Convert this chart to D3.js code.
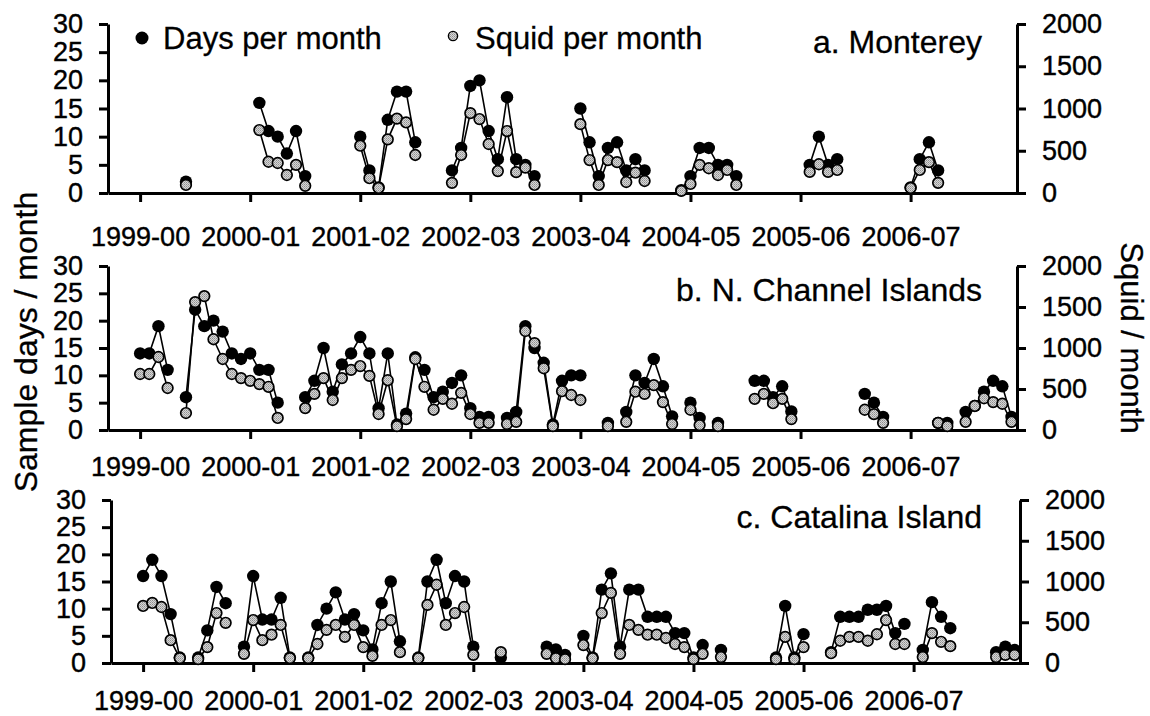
<!DOCTYPE html>
<html>
<head>
<meta charset="utf-8">
<script src="https://cdn.jsdelivr.net/npm/d3@7"></script>
<style>
  body { margin: 0; background: #fff; }
  svg { display: block; font-family: "Liberation Sans", Arial, sans-serif; }
</style>
</head>
<body>
<div id="chart"></div>
<script>
// season ticks on the x axis (month index, 0 = first season tick)
const seasonLabels = ['1999-00', '2000-01', '2001-02', '2002-03', '2003-04', '2004-05', '2005-06', '2006-07'];
const seasonMonths = [0, 12, 24, 36, 48, 60, 72, 84];
const daysTicks = [0, 5, 10, 15, 20, 25, 30];
const squidTicks = [0, 500, 1000, 1500, 2000];

// a. Monterey
const monthsA = [5, 13, 14, 15, 16, 17, 18, 24, 25, 26, 27, 28, 29, 30,
    34, 35, 36, 37, 38, 39, 40, 41, 42, 43, 48, 49, 50, 51, 52, 53, 54, 55,
    59, 60, 61, 62, 63, 64, 65, 73, 74, 75, 76, 84, 85, 86, 87];
const daysA = [2, 16, 11, 10, 7, 11, 3, 10, 4, 1, 13, 18, 18, 9,
    4, 8, 19, 20, 11, 6, 17, 6, 5, 3, 15, 9, 3, 8, 9, 4, 6, 4,
    0.5, 3, 8, 8, 5, 5, 3, 5, 10, 5, 6, 1, 6, 9, 4];
const squidA = [95, 745, 370, 355, 213, 333, 85, 560, 175, 60, 635, 880, 835, 450,
    120, 450, 945, 875, 580, 260, 733, 247, 300, 95, 815, 390, 95, 390, 365, 130, 240, 142,
    25, 107, 333, 293, 213, 273, 95, 250, 340, 250, 273, 60, 273, 365, 120];

// b. N. Channel Islands
const monthsB = [0, 1, 2, 3, 5, 6, 7, 8, 9, 10, 11, 12, 13, 14, 15,
    18, 19, 20, 21, 22, 23, 24, 25, 26, 27, 28, 29, 30, 31, 32, 33, 34, 35, 36, 37, 38,
    40, 41, 42, 43, 44, 45, 46, 47, 48, 51, 53, 54, 55, 56, 57, 58, 60, 61, 63,
    67, 68, 69, 70, 71, 79, 80, 81, 87, 88, 90, 91, 92, 93, 94, 95];
const daysB = [14, 14, 19, 11, 6, 22, 19, 20, 18, 14, 13, 14, 11, 11, 5,
    6, 9, 15, 7, 12, 14, 17, 14, 4, 14, 1, 3, 13.3, 11, 6, 7, 8.6, 10, 4, 2.4, 2.4,
    2.2, 3.3, 19, 15, 12.3, 1, 9, 10, 10, 1.3, 3.3, 10, 8.6, 13, 8, 2.5, 5, 2.2, 1.3,
    9, 9, 6, 8, 3.4, 6.6, 5, 2.4, 1.3, 1.3, 3.3, 4.4, 7, 9, 8, 2.4];
const squidB = [683, 683, 890, 512, 207, 1560, 1633, 1107, 866, 683, 633, 600, 560, 527, 147,
    267, 440, 633, 366, 633, 733, 780, 660, 195, 607, 47, 133, 866, 527, 247, 380, 320, 453, 195, 87, 87,
    73, 100, 1207, 1060, 753, 47, 473, 427, 366, 47, 100, 467, 440, 547, 340, 73, 247, 60, 47,
    380, 440, 327, 380, 133, 247, 193, 87, 87, 47, 100, 293, 387, 340, 320, 100];

// c. Catalina Island
const monthsC = [0, 1, 2, 3, 4, 6, 7, 8, 9, 11, 12, 13, 14, 15, 16,
    18, 19, 20, 21, 22, 23, 24, 25, 26, 27, 28, 30, 31, 32, 33, 34, 35, 36, 39,
    44, 45, 46, 48, 49, 50, 51, 52, 53, 54, 55, 56, 57, 58, 59, 60, 61, 63,
    69, 70, 71, 72, 75, 76, 77, 78, 79, 80, 81, 82, 83, 85, 86, 87, 88, 93, 94, 95];
const daysC = [16, 19, 16, 9, 1, 1, 6, 14, 11, 3, 16, 8, 8, 12, 1,
    1, 7, 10, 13, 8, 9, 6, 2.5, 11, 15, 4, 1, 15, 19, 11, 16, 15, 3, 1,
    3, 2.5, 1.5, 5, 1, 13.5, 16.5, 3, 13.5, 13.5, 8.5, 8.5, 8.5, 5.5, 5.5, 1, 3.3, 2.4,
    1, 10.5, 1, 5.3, 2, 8.5, 8.5, 8.5, 9.8, 9.8, 10.5, 5.5, 7.2, 2.4, 11.2, 8.5, 6.4, 2, 3, 2.4];
const squidC = [700, 737, 687, 280, 60, 47, 195, 613, 493, 113, 527, 280, 347, 467, 60,
    60, 233, 407, 467, 320, 467, 195, 87, 467, 527, 133, 60, 713, 960, 467, 613, 687, 100, 133,
    113, 60, 47, 220, 60, 613, 860, 113, 467, 407, 347, 347, 307, 233, 195, 47, 113, 73,
    47, 320, 47, 195, 120, 273, 320, 320, 273, 353, 527, 233, 233, 73, 367, 260, 207, 73, 100, 100];

const width = 1150;
const height = 716;

// panel layout (pixel frames)
const panels = [
    { title: 'a. Monterey', months: monthsA, days: daysA, squid: squidA,
      left: 108, right: 1017, bottom: 193, top: 24, xPad: 25, titleY: 53 },
    { title: 'b. N. Channel Islands', months: monthsB, days: daysB, squid: squidB,
      left: 108, right: 1017, bottom: 430, top: 266, xPad: 18, titleY: 301 },
    { title: 'c. Catalina Island', months: monthsC, days: daysC, squid: squidC,
      left: 111, right: 1020, bottom: 663, top: 500, xPad: 19, titleY: 528 }
];

const svg = d3.select('#chart')
    .append('svg')
    .attr('width', width)
    .attr('height', height);

// stippled grey fill for the squid markers
const pat = svg.append('defs')
    .append('pattern')
    .attr('id', 'stipple')
    .attr('width', 2)
    .attr('height', 2)
    .attr('patternUnits', 'userSpaceOnUse');
pat.append('rect').attr('width', 2).attr('height', 2).attr('fill', '#d6d6d6');
pat.append('rect').attr('width', 1).attr('height', 1).attr('fill', '#8f8f8f');
pat.append('rect').attr('x', 1).attr('y', 1).attr('width', 1).attr('height', 1).attr('fill', '#a8a8a8');

// split a series into runs of consecutive months
function runs(months, values) {
    const out = [];
    let cur = [];
    months.forEach((m, i) => {
        if (cur.length && m - months[i - 1] > 1) {
            out.push(cur);
            cur = [];
        }
        cur.push([m, values[i]]);
    });
    if (cur.length) out.push(cur);
    return out;
}

function drawPanel(p) {
    const g = svg.append('g');

    const x = d3.scaleLinear()
        .domain([-3.5, 95.6])
        .range([p.left, p.right]);
    const yDays = d3.scaleLinear()
        .domain([0, 30])
        .range([p.bottom, p.top]);
    const ySquid = d3.scaleLinear()
        .domain([0, 2000])
        .range([p.bottom, p.top]);

    // axes
    const xAxis = g.append('g')
        .attr('transform', `translate(0,${p.bottom})`)
        .call(d3.axisBottom(x)
            .tickValues(seasonMonths)
            .tickFormat((d, i) => seasonLabels[i])
            .tickSize(9)
            .tickSizeOuter(0)
            .tickPadding(p.xPad));

    const leftAxis = g.append('g')
        .attr('transform', `translate(${p.left},0)`)
        .call(d3.axisLeft(yDays)
            .tickValues(daysTicks)
            .tickSize(9)
            .tickSizeOuter(0)
            .tickPadding(16));

    const rightAxis = g.append('g')
        .attr('transform', `translate(${p.right},0)`)
        .call(d3.axisRight(ySquid)
            .tickValues(squidTicks)
            .tickFormat(d3.format('d'))
            .tickSize(9)
            .tickSizeOuter(0)
            .tickPadding(16));

    [xAxis, leftAxis, rightAxis].forEach(a => {
        a.select('.domain').attr('stroke', '#000').attr('stroke-width', 3);
        a.selectAll('.tick line').attr('stroke', '#000').attr('stroke-width', 3);
        a.selectAll('.tick text')
            .attr('fill', '#000')
            .attr('stroke', '#000')
            .attr('stroke-width', 0.4)
            .attr('font-size', 27)
            .attr('font-family', '"Liberation Sans", Arial, sans-serif');
    });

    const line = d3.line();

    // lines for both series
    runs(p.months, p.days).forEach(r => {
        g.append('path')
            .attr('d', line(r.map(d => [x(d[0]), yDays(d[1])])))
            .attr('fill', 'none')
            .attr('stroke', '#000')
            .attr('stroke-width', 1.6);
    });
    runs(p.months, p.squid).forEach(r => {
        g.append('path')
            .attr('d', line(r.map(d => [x(d[0]), ySquid(d[1])])))
            .attr('fill', 'none')
            .attr('stroke', '#000')
            .attr('stroke-width', 1.6);
    });

    // days per month markers
    g.selectAll('.day')
        .data(p.months.map((m, i) => [m, p.days[i]]))
        .join('circle')
        .attr('class', 'day')
        .attr('cx', d => x(d[0]))
        .attr('cy', d => yDays(d[1]))
        .attr('r', 6.2)
        .attr('fill', '#000');

    // squid per month markers
    g.selectAll('.squid')
        .data(p.months.map((m, i) => [m, p.squid[i]]))
        .join('circle')
        .attr('class', 'squid')
        .attr('cx', d => x(d[0]))
        .attr('cy', d => ySquid(d[1]))
        .attr('r', 5.3)
        .attr('fill', 'url(#stipple)')
        .attr('stroke', '#000')
        .attr('stroke-width', 1.7);

    // panel title
    g.append('text')
        .attr('x', 982)
        .attr('y', p.titleY)
        .attr('text-anchor', 'end')
        .attr('font-size', 32)
        .attr('stroke', '#000')
        .attr('stroke-width', 0.3)
        .text(p.title);
}

panels.forEach(drawPanel);

// legend
const legend = svg.append('g')
    .attr('font-size', 31)
    .attr('stroke-width', 0.3);
legend.append('circle')
    .attr('cx', 142)
    .attr('cy', 38)
    .attr('r', 6.5)
    .attr('fill', '#000');
legend.append('text')
    .attr('x', 163)
    .attr('y', 49)
    .attr('stroke', '#000')
    .text('Days per month');
legend.append('circle')
    .attr('cx', 453)
    .attr('cy', 36)
    .attr('r', 4.6)
    .attr('fill', 'url(#stipple)')
    .attr('stroke', '#000')
    .attr('stroke-width', 1.4);
legend.append('text')
    .attr('x', 475)
    .attr('y', 49)
    .attr('stroke', '#000')
    .text('Squid per month');

// axis titles
svg.append('text')
    .attr('transform', 'translate(37,342) rotate(-90)')
    .attr('text-anchor', 'middle')
    .attr('font-size', 32)
    .attr('stroke', '#000')
    .attr('stroke-width', 0.3)
    .text('Sample days / month');

svg.append('text')
    .attr('transform', 'translate(1121,338) rotate(90)')
    .attr('text-anchor', 'middle')
    .attr('font-size', 31)
    .attr('stroke', '#000')
    .attr('stroke-width', 0.3)
    .text('Squid / month');
</script>
</body>
</html>
